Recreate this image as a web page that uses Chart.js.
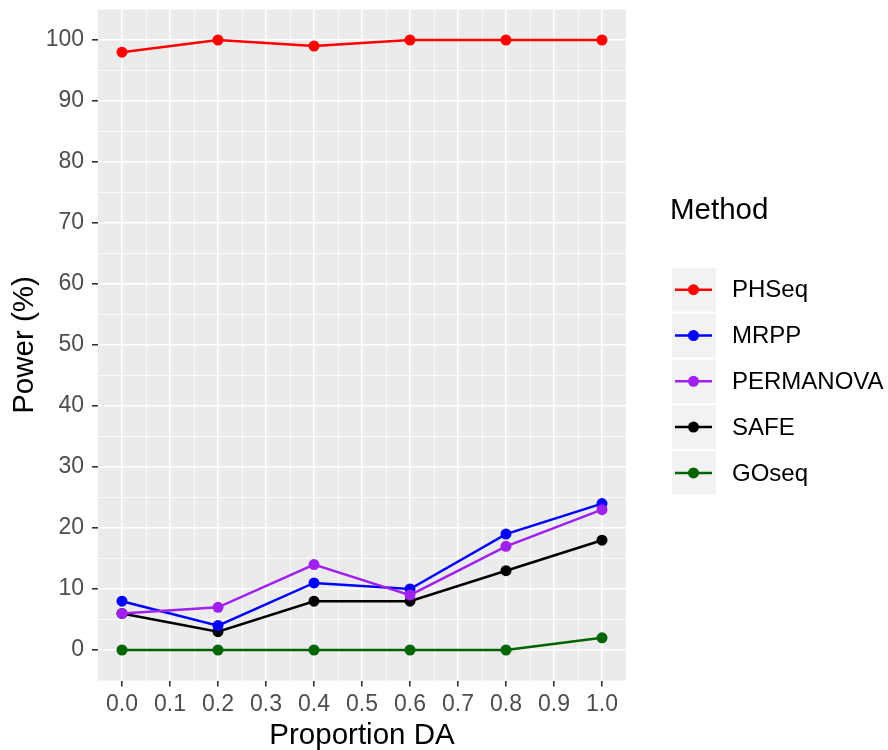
<!DOCTYPE html>
<html>
<head>
<meta charset="utf-8">
<script src="https://cdn.jsdelivr.net/npm/chart.js@4"></script>
<style>
  html, body { margin: 0; padding: 0; background: #fff; }
  #wrap { width: 888px; height: 750px; }
</style>
</head>
<body>
<div id="wrap"><canvas id="chart" width="888" height="750"></canvas></div>
<script>
// data
const proportionDA = [0.0, 0.2, 0.4, 0.6, 0.8, 1.0];
const methods = ['PHSeq', 'MRPP', 'PERMANOVA', 'SAFE', 'GOseq'];
const phseq = [98, 100, 99, 100, 100, 100];
const mrpp = [8, 4, 11, 10, 19, 24];
const permanova = [6, 7, 14, 9, 17, 23];
const safe = [6, 3, 8, 8, 13, 18];
const goseq = [0, 0, 0, 0, 0, 2];
const seriesValues = [phseq, mrpp, permanova, safe, goseq];
const colors = ['#FF0000', '#0000FF', '#A020F0', '#000000', '#006400'];
const drawOrder = [4, 2, 1, 3, 5];

const FONT = "'Liberation Sans', Arial, sans-serif";

const isMajorY = v => v >= 0 && v <= 100 && Math.round(v) % 10 === 0;
const isMajorX = v => { const r = Math.round(v * 100); return r >= 0 && r <= 100 && r % 10 === 0; };
const isEdge = (scale, v) => Math.abs(v - scale.min) < 1e-6 || Math.abs(v - scale.max) < 1e-6;

const panelBg = {
  id: 'panelBg',
  beforeDraw(chart) {
    const { ctx, chartArea: a } = chart;
    ctx.save();
    ctx.fillStyle = '#EBEBEB';
    ctx.fillRect(a.left, a.top, a.right - a.left, a.bottom - a.top);
    ctx.restore();
  }
};

const ggLegend = {
  id: 'ggLegend',
  afterDraw(chart) {
    const ctx = chart.ctx;
    ctx.save();
    ctx.fillStyle = '#000';
    ctx.font = '29.5px ' + FONT;
    ctx.textBaseline = 'middle';
    ctx.textAlign = 'left';
    ctx.fillText('Method', 670, 211);
    ctx.font = '24px ' + FONT;
    chart.data.datasets.forEach((ds, i) => {
      const top = 268 + i * 45.8;
      const cy = top + 21.7;
      ctx.fillStyle = '#F2F2F2';
      ctx.fillRect(672, top, 44, 43.5);
      ctx.strokeStyle = ds.borderColor;
      ctx.lineWidth = 2.5;
      ctx.beginPath();
      ctx.moveTo(675, cy);
      ctx.lineTo(712, cy);
      ctx.stroke();
      ctx.fillStyle = ds.borderColor;
      ctx.beginPath();
      ctx.arc(693.5, cy, 5.5, 0, Math.PI * 2);
      ctx.fill();
      ctx.fillStyle = '#000';
      ctx.fillText(ds.label, 732, cy + 1);
    });
    ctx.restore();
  }
};

const datasets = methods.map((m, i) => ({
  label: m,
  data: proportionDA.map((x, j) => ({ x: x, y: seriesValues[i][j] })),
  borderColor: colors[i],
  backgroundColor: colors[i],
  borderWidth: 2.5,
  pointRadius: 5.5,
  pointHoverRadius: 5.5,
  pointBorderWidth: 0,
  tension: 0,
  order: drawOrder[i]
}));

new Chart(document.getElementById('chart').getContext('2d'), {
  type: 'line',
  data: { datasets: datasets },
  plugins: [panelBg, ggLegend],
  options: {
    responsive: false,
    animation: false,
    events: [],
    layout: { padding: { left: 0, right: 262, top: 9.5, bottom: 0 } },
    plugins: { legend: { display: false }, tooltip: { enabled: false } },
    scales: {
      x: {
        type: 'linear',
        min: -0.05,
        max: 1.05,
        afterFit: s => { s.height = 69.5; s.paddingLeft = 0; s.paddingRight = 0; },
        border: { display: false },
        grid: {
          color: c => (c.tick && isEdge(c.scale, c.tick.value)) ? 'rgba(0,0,0,0)' : '#FFFFFF',
          lineWidth: c => (c.tick && isMajorX(c.tick.value)) ? 1.6 : 0.8,
          tickColor: c => (c.tick && isMajorX(c.tick.value)) ? '#333333' : 'rgba(0,0,0,0)',
          tickLength: 6,
          tickWidth: 1.6
        },
        ticks: {
          stepSize: 0.05,
          autoSkip: false,
          maxRotation: 0,
          padding: 4,
          color: '#4D4D4D',
          font: { family: FONT, size: 23 },
          callback: v => isMajorX(v) ? v.toFixed(1) : ''
        },
        title: {
          display: true,
          text: 'Proportion DA',
          color: '#000',
          font: { family: FONT, size: 29.5 },
          padding: { top: 0, bottom: -4 }
        }
      },
      y: {
        type: 'linear',
        min: -5,
        max: 105,
        afterFit: s => { s.width = 98; s.paddingTop = 0; s.paddingBottom = 0; },
        border: { display: false },
        grid: {
          color: c => (c.tick && isEdge(c.scale, c.tick.value)) ? 'rgba(0,0,0,0)' : '#FFFFFF',
          lineWidth: c => (c.tick && isMajorY(c.tick.value)) ? 1.6 : 0.8,
          tickColor: c => (c.tick && isMajorY(c.tick.value)) ? '#333333' : 'rgba(0,0,0,0)',
          tickLength: 6,
          tickWidth: 1.6
        },
        ticks: {
          stepSize: 5,
          autoSkip: false,
          padding: 8,
          color: '#4D4D4D',
          font: { family: FONT, size: 23 },
          callback: v => isMajorY(v) ? String(v) : ''
        },
        title: {
          display: true,
          text: 'Power (%)',
          color: '#000',
          font: { family: FONT, size: 29.5 },
          padding: { top: 7, bottom: 0 }
        }
      }
    }
  }
});
</script>
</body>
</html>
